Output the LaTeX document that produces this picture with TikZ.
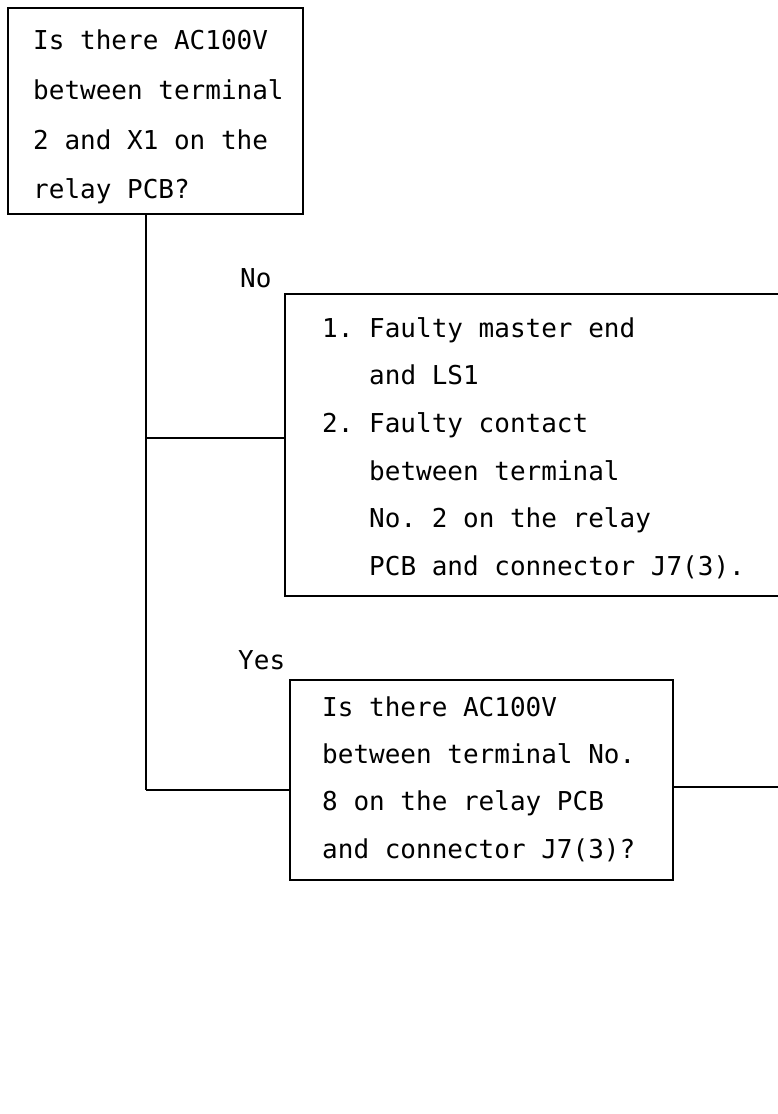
\documentclass[tikz,border=0pt]{standalone}
\usepackage{fontspec}
\newfontfamily\tw{DejaVu Sans Mono}
\frenchspacing
\begin{document}
\begin{tikzpicture}[x=1pt,y=-1pt,
  box/.style={draw, line width=1.8pt, rectangle, inner sep=0pt, anchor=north west},
  txt/.style={anchor=base west, inner sep=0pt, font=\tw\fontsize{26}{30}\selectfont\frenchspacing},
  wire/.style={line width=1.8pt}]
\clip (0,0) rectangle (778,1114);
% boxes
\node[box, minimum width=295pt, minimum height=206pt] (b1) at (7,7) {};
\node[box, minimum width=540pt, minimum height=302pt] (b2) at (284,293) {};
\node[box, minimum width=383pt, minimum height=200pt] (b3) at (289,679) {};
% box 1 text
\node[txt] (t11) at (33,49) {Is there AC100V};
\node[txt] (t12) at (33,99) {between terminal};
\node[txt] (t13) at (33,149) {2 and X1 on the};
\node[txt] (t14) at (33,198) {relay PCB?};
% box 2 text
\node[txt] (t21) at (322,337) {1. Faulty master end};
\node[txt] (t22) at (369,384) {and LS1};
\node[txt] (t23) at (322,432) {2. Faulty contact};
\node[txt] (t24) at (369,480) {between terminal};
\node[txt] (t25) at (369,527) {No. 2 on the relay};
\node[txt] (t26) at (369,575) {PCB and connector J7(3).};
% box 3 text
\node[txt] (t31) at (322,716) {Is there AC100V};
\node[txt] (t32) at (322,763) {between terminal No.};
\node[txt] (t33) at (322,810) {8 on the relay PCB};
\node[txt] (t34) at (322,858) {and connector J7(3)?};
% labels
\node[txt] (no) at (240,287) {No};
\node[txt] (yes) at (238,669) {Yes};
% connectors
\coordinate (j1) at (146,438);
\coordinate (j2) at (146,790);
\coordinate (r) at (790,787);
\draw[wire] (b1.south -| j1) -- (j2);
\draw[wire] (j1) -- (j1 -| b2.west);
\draw[wire] (j2) -- (j2 -| b3.west);
\draw[wire] (b3.east |- r) -- (r);
\end{tikzpicture}
\end{document}
